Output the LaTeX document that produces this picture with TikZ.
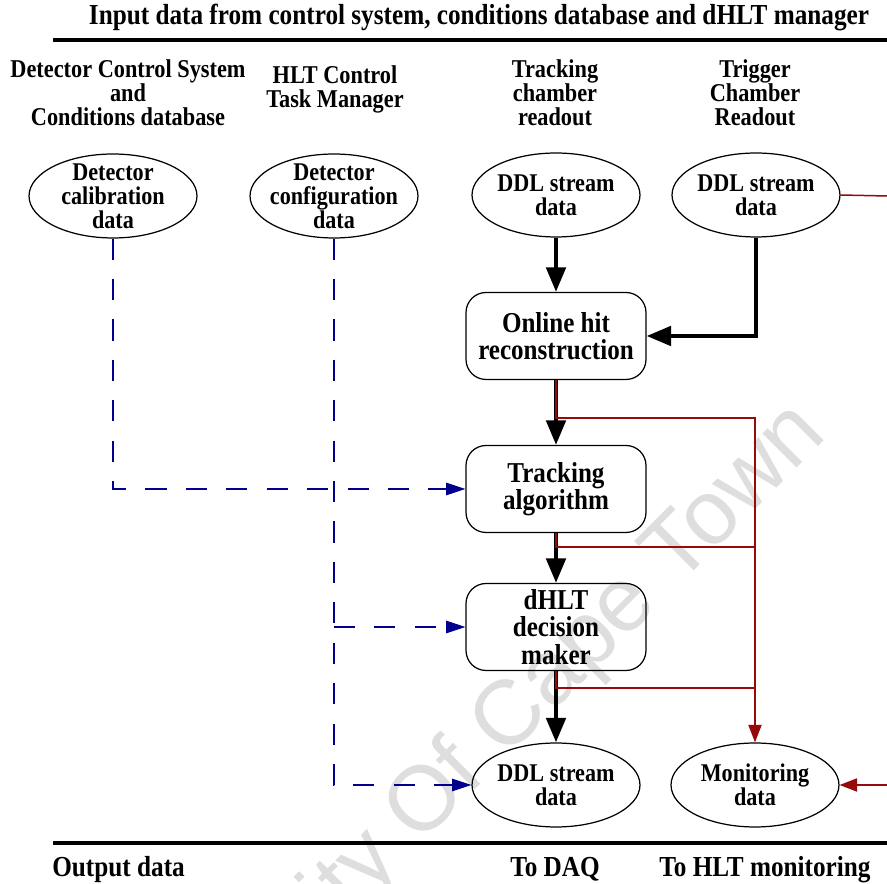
\documentclass[tikz,border=0pt]{standalone}
\usepackage{fontspec}
\setmainfont{Liberation Serif}[FakeStretch=0.87]
\newfontfamily\wmfont{Liberation Sans}
\usetikzlibrary{shapes.geometric,arrows.meta}
\definecolor{flowred}{RGB}{150,10,10}
\definecolor{cfgblue}{RGB}{0,0,140}
\definecolor{wmgray}{RGB}{222,222,222}
\begin{document}
\begin{tikzpicture}[x=0.02cm, y=-0.02cm,
  ell/.style={ellipse, draw, line width=0.7pt, minimum width=3.36cm,
    minimum height=1.68cm, inner sep=0pt},
  lab/.style={align=center, inner sep=0pt,
    font=\fontsize{14.5}{13.6}\selectfont\bfseries},
  stage/.style={rectangle, rounded corners=0.4cm, draw, line width=0.7pt,
    minimum width=3.6cm, minimum height=1.74cm, align=center, inner sep=0pt,
    font=\fontsize{16.4}{15.6}\selectfont\bfseries},
  hdr/.style={align=center, inner sep=0pt,
    font=\fontsize{14.6}{13.6}\selectfont\bfseries},
  big/.style={inner sep=0pt, font=\fontsize{16.5}{18}\selectfont\bfseries},
  mainflow/.style={line width=2.4pt, -{Triangle[length=14pt,width=11pt]}},
  mon/.style={draw=flowred, line width=0.85pt},
  monarrow/.style={mon, -{Triangle[length=10pt,width=7.5pt]}},
  cfg/.style={draw=cfgblue, line width=1pt, dash pattern=on 12pt off 11pt,
    -{Triangle[length=11pt,width=7pt]}},
  rulebar/.style={line width=2.8pt}]

\fill[white] (0,0) rectangle (887,884);
\useasboundingbox (0,0) rectangle (887,884);

% watermark
\begin{scope}
  \clip (0,0) rectangle (887,884);
  \node[rotate=45, anchor=base east, text=wmgray, inner sep=0pt,
    font=\wmfont\fontsize{52}{52}\selectfont] (wm) at (829,436)
    {University Of Cape Town};
\end{scope}

% title and rules
\node[big] (title) at (479,18) {Input data from control system, conditions database and dHLT manager};
\coordinate (topL) at (53,40);
\coordinate (topR) at (887,40);
\draw[rulebar] (topL) -- (topR);
\coordinate (botL) at (53,843);
\coordinate (botR) at (887,843);
\draw[rulebar] (botL) -- (botR);

% column headers
\node[hdr] (h1) at (128,93) {Detector Control System\\and\\Conditions database};
\node[hdr] (h2) at (335,89) {HLT Control\\Task Manager};
\node[hdr] (h3) at (555,93) {Tracking\\chamber\\readout};
\node[hdr] (h4) at (755,93) {Trigger\\Chamber\\Readout};

% input data
\node[ell, label={[lab]center:Detector\\calibration\\data}] (e1) at (113,196) {};
\node[ell, label={[lab]center:Detector\\configuration\\data}] (e2) at (334,196) {};
\node[ell, label={[lab]center:DDL stream\\data}] (e3) at (556,195) {};
\node[ell, label={[lab]center:DDL stream\\data}] (e4) at (756,195) {};

% processing stages
\node[stage] (b1) at (556,336) {Online hit\\reconstruction};
\node[stage] (b2) at (556,489) {Tracking\\algorithm};
\node[stage] (b3) at (556,627) {dHLT\\decision\\maker};

% output data
\node[ell, label={[lab]center:DDL stream\\data}] (e5) at (556,785) {};
\node[ell, label={[lab]center:Monitoring\\data}] (e6) at (755,785) {};

% bottom captions
\node[big, anchor=base west] (o1) at (52,877) {Output data};
\node[big, anchor=base] (o2) at (555,877) {To DAQ};
\node[big, anchor=base] (o3) at (765,877) {To HLT monitoring};

% main data flow
\draw[mainflow] (e3.south) -- (b1.north);
\draw[mainflow] (e4.south) |- (b1.east);
\draw[mainflow] (b1.south) -- (b2.north);
\draw[mainflow] (b2.south) -- (b3.north);
\draw[mainflow] (b3.south) -- (e5.north);

% monitoring flow
\coordinate (r1) at (755,418);
\coordinate (r2) at (755,547);
\coordinate (r3) at (755,688);
\coordinate (rout) at (887,196);
\coordinate (rin) at (887,785);
\draw[mon] (e4.east) -- (rout);
\draw[monarrow] (b1.south) |- (r1) -- (e6.north);
\draw[mon] (b2.south) |- (r2);
\draw[mon] (b3.south) |- (r3);
\draw[monarrow] (rin) -- (e6.east);

% configuration flow
\draw[cfg] (e1.south) |- (b2.west);
\draw[cfg] (e2.south) |- (e5.west);
\coordinate (cj) at (e2.south |- b3.west);
\draw[cfg] (cj) -- (b3.west);

\end{tikzpicture}
\end{document}
